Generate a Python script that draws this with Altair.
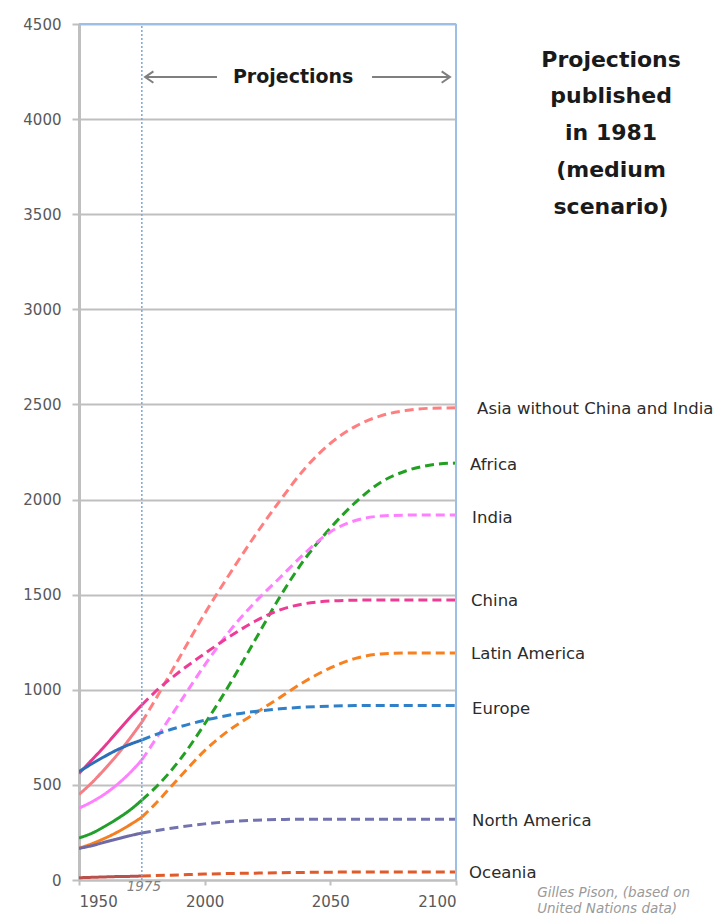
import altair as alt
import pandas as pd

# ---------------- data (millions) ----------------
regions = ["Asia without China and India", "Africa", "India", "China",
           "Latin America", "Europe", "North America", "Oceania"]

years_hist = [1950, 1955, 1960, 1965, 1970, 1975]
years_proj = [1975, 1980, 1990, 2000, 2010, 2020, 2030, 2040, 2050,
              2060, 2070, 2080, 2090, 2100]

hist_asia = [450, 510, 580, 655, 740, 830]
proj_asia = [830, 940, 1170, 1400, 1610, 1810, 1995, 2165, 2295, 2385, 2440, 2468, 2480, 2482]

hist_africa = [221, 245, 280, 320, 365, 420]
proj_africa = [420, 480, 630, 820, 1030, 1260, 1490, 1690, 1850, 1985, 2090, 2150, 2182, 2192]

hist_india = [378, 410, 450, 500, 560, 631]
proj_india = [631, 730, 930, 1130, 1310, 1460, 1590, 1720, 1830, 1890, 1913, 1918, 1919, 1919]

hist_china = [560, 630, 700, 775, 850, 920]
proj_china = [920, 985, 1095, 1190, 1280, 1360, 1420, 1453, 1467, 1471, 1472, 1472, 1472, 1472]

hist_latam = [168, 190, 218, 250, 288, 330]
proj_latam = [330, 395, 540, 680, 790, 875, 960, 1045, 1115, 1165, 1188, 1193, 1194, 1194]

hist_europe = [570, 610, 648, 683, 712, 736]
proj_europe = [736, 762, 805, 840, 867, 886, 900, 909, 914, 917, 918, 918, 918, 918]

hist_namerica = [166, 180, 198, 215, 232, 247]
proj_namerica = [247, 258, 278, 295, 307, 314, 318, 320, 320, 320, 320, 320, 320, 320]

hist_oceania = [12, 14, 16, 18, 19, 21]
proj_oceania = [21, 23, 27, 31, 34, 36, 38, 40, 41, 42, 42, 42, 42, 42]

hist_values = [hist_asia, hist_africa, hist_india, hist_china,
               hist_latam, hist_europe, hist_namerica, hist_oceania]
proj_values = [proj_asia, proj_africa, proj_india, proj_china,
               proj_latam, proj_europe, proj_namerica, proj_oceania]

# ---------------- styles ----------------
hist_colors = ["#F47F86", "#229E2A", "#FF80FF", "#E8388F",
               "#F57F20", "#2C6FB7", "#6E6AA6", "#B8504B"]
proj_colors = ["#FF7F80", "#22A022", "#FF80FF", "#EE3C96",
               "#F8801E", "#2F80C9", "#7373B0", "#E05A2B"]
hist_widths = [3, 3.5, 3, 3.5, 3, 3.5, 3, 4.5]
proj_widths = [3, 4.5, 3, 4.5, 4, 4.5, 4, 4.5]

label_years = [2108.4, 2105.6, 2106.4, 2106, 2106, 2106.4, 2106.4, 2105.2]
label_values = [2476, 2182, 1903, 1467, 1188, 899, 310, 37]

rows = []
keys, cols, wids = [], [], []
for i, r in enumerate(regions):
    for y, v in zip(years_hist, hist_values[i]):
        rows.append({"region": r, "phase": "hist", "key": r + "|hist", "year": y, "value": v})
    for y, v in zip(years_proj, proj_values[i]):
        rows.append({"region": r, "phase": "proj", "key": r + "|proj", "year": y, "value": v})
    keys += [r + "|hist", r + "|proj"]
    cols += [hist_colors[i], proj_colors[i]]
    wids += [hist_widths[i], proj_widths[i]]
df = pd.DataFrame(rows)

FONT = "DejaVu Sans"
xscale = alt.Scale(domain=[1950, 2100], nice=False, zero=False)
yscale = alt.Scale(domain=[0, 4500], nice=False)

lines = alt.Chart(df).mark_line(interpolate="monotone", clip=True).encode(
    x=alt.X("year:Q", scale=xscale,
            axis=alt.Axis(values=[1950, 2000, 2050, 2100], format="d", title=None,
                          grid=False, labelFont=FONT, labelFontSize=15,
                          labelColor="#595959", tickSize=5, tickColor="#BFBFBF",
                          tickWidth=2, domainColor="#BFBFBF", domainWidth=2,
                          labelPadding=9)),
    y=alt.Y("value:Q", scale=yscale,
            axis=alt.Axis(values=list(range(0, 4501, 500)), format="d", title=None,
                          grid=True, gridColor="#BFBFBF", gridWidth=2,
                          labelFont=FONT, labelFontSize=15, labelColor="#595959",
                          tickSize=7, tickColor="#BFBFBF", tickWidth=2,
                          domainColor="#BFBFBF", domainWidth=3, labelPadding=11)),
    detail="key:N",
    order="year:Q",
    color=alt.Color("key:N", scale=alt.Scale(domain=keys, range=cols), legend=None),
    strokeWidth=alt.StrokeWidth("key:N", scale=alt.Scale(domain=keys, range=wids), legend=None),
    strokeDash=alt.StrokeDash("phase:N", scale=alt.Scale(domain=["hist", "proj"],
                                                         range=[[1, 0], [9, 5]]), legend=None),
)

# plot-area borders (top/right) and 1975 marker
border_top = alt.Chart(pd.DataFrame({"x": [1950], "x2": [2100], "y": [4500]})).mark_rule(
    color="#9BBFE5", strokeWidth=2).encode(x="x:Q", x2="x2:Q", y="y:Q")
border_right = alt.Chart(pd.DataFrame({"x": [2100], "y": [0], "y2": [4500]})).mark_rule(
    color="#9BBFE5", strokeWidth=2).encode(x="x:Q", y="y:Q", y2="y2:Q")
v1975 = alt.Chart(pd.DataFrame({"x": [1975], "y": [0], "y2": [4500]})).mark_rule(
    color="#7EA6D8", strokeWidth=1.5, strokeDash=[2, 2]).encode(x="x:Q", y="y:Q", y2="y2:Q")

# "Projections" arrows
arrow_y = 4221
arrow_rows = [
    {"g": "l", "year": 1976.3, "value": arrow_y, "o": 0},
    {"g": "l", "year": 2004.9, "value": arrow_y, "o": 1},
    {"g": "r", "year": 2066.6, "value": arrow_y, "o": 0},
    {"g": "r", "year": 2097.6, "value": arrow_y, "o": 1},
    {"g": "lh", "year": 1979.6, "value": arrow_y + 30, "o": 0},
    {"g": "lh", "year": 1976.3, "value": arrow_y, "o": 1},
    {"g": "lh", "year": 1979.6, "value": arrow_y - 30, "o": 2},
    {"g": "rh", "year": 2094.3, "value": arrow_y + 30, "o": 0},
    {"g": "rh", "year": 2097.6, "value": arrow_y, "o": 1},
    {"g": "rh", "year": 2094.3, "value": arrow_y - 30, "o": 2},
]
arrows = alt.Chart(pd.DataFrame(arrow_rows)).mark_line(color="#7F7F7F", strokeWidth=2).encode(
    x="year:Q", y="value:Q", detail="g:N", order="o:Q")
proj_label = alt.Chart(pd.DataFrame({"year": [2035.2], "value": [arrow_y], "t": ["Projections"]})).mark_text(
    font=FONT, fontSize=19, fontWeight="bold", color="#1A1A1A", baseline="middle", align="center"
).encode(x="year:Q", y="value:Q", text="t:N")

# right-side region labels
lab_df = pd.DataFrame({"region": regions, "year": label_years, "value": label_values})
labels = alt.Chart(lab_df).mark_text(
    font=FONT, fontSize=16.5, color="#2B2B2B", align="left", baseline="middle"
).encode(x="year:Q", y="value:Q", text="region:N")

# title block
title_lines = ["Projections", "published", "in 1981", "(medium", "scenario)"]
title_values = [4311, 4122, 3927, 3733, 3538]
title = alt.Chart(pd.DataFrame({"t": title_lines, "value": title_values,
                                "year": [2161.7] * 5})).mark_text(
    font=FONT, fontSize=22, fontWeight="bold", color="#1A1A1A", align="center", baseline="middle"
).encode(x="year:Q", y="value:Q", text="t:N")

# 1975 label and credit
y1975 = alt.Chart(pd.DataFrame({"year": [1975.8], "value": [-37], "t": ["1975"]})).mark_text(
    font=FONT, fontSize=13.5, fontStyle="italic", color="#7F7F7F", align="center", baseline="middle"
).encode(x="year:Q", y="value:Q", text="t:N")
credit = alt.Chart(pd.DataFrame({"year": [2132.3, 2132.3], "value": [-66, -150],
                                 "t": ["Gilles Pison, (based on", "United Nations data)"]})).mark_text(
    font=FONT, fontSize=13.5, fontStyle="italic", color="#9A9A9A", align="left", baseline="middle"
).encode(x="year:Q", y="value:Q", text="t:N")

chart = alt.layer(
    lines, v1975, border_top, border_right, arrows, proj_label, labels, title, y1975, credit
).properties(
    width=377, height=856,
    padding={"left": 71, "top": 16, "right": 261, "bottom": 36},
    autosize=alt.AutoSizeParams(type="none"),
    background="white",
).configure_view(stroke=None)

chart.save("out.html", embed_options={"renderer": "svg", "actions": False})
